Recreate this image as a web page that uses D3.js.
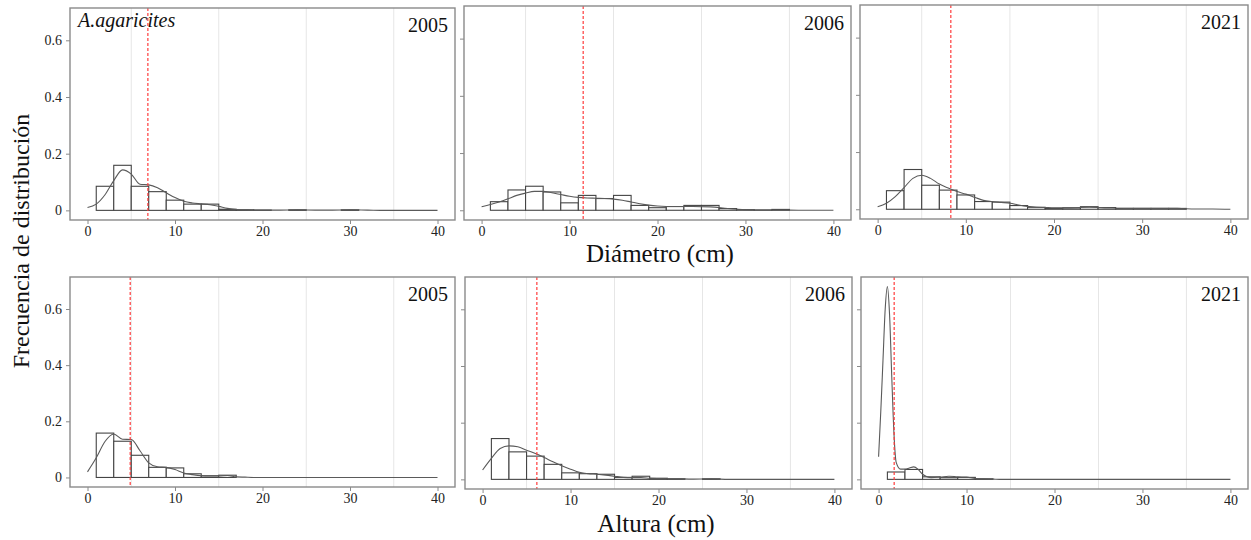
<!DOCTYPE html>
<html>
<head>
<meta charset="utf-8">
<script src="https://cdn.jsdelivr.net/npm/d3@7"></script>
<style>
  body { margin: 0; background: #fff; }
  text { font-family: "Liberation Serif", "Times New Roman", serif; }
</style>
</head>
<body>
<div id="chart"></div>
<script>
    // shared axes
    var xTicks = [0, 10, 20, 30, 40];
    var yTicks = [0, 0.2, 0.4, 0.6];
    var gridX = [5, 15, 25, 35];
    var years = ["2005", "2006", "2021"];
    var binWidth = 2;
    var firstBin = 1;

    // density grid (cm)
    var densityGrid = [0,1,2,3,4,5,6,7,8,9,10,11,12,13,14,15,16,17,18,19,20,22,24,26,28,30,32,34,36,38,40];
    var altura2021Grid = [0,0.25,0.5,0.75,1,1.25,1.5,1.75,2,2.5,3,3.5,4,4.5,5,5.5,6,7,8,9,10,11,12,13,14,20,30,40];

    // histogram heights (bins 1-3, 3-5, ...)
    var diam2005Bins = [0.085,0.159,0.085,0.066,0.036,0.022,0.022,0.004,0.002,0.001,0,0.002,0,0,0.002];
    var diam2006Bins = [0.030,0.071,0.084,0.064,0.026,0.052,0.041,0.052,0.017,0.009,0.013,0.017,0.017,0.006,0.002,0.001,0.003];
    var diam2021Bins = [0.065,0.139,0.084,0.067,0.050,0.027,0.025,0.013,0.007,0.003,0.005,0.009,0.006,0.003,0.003,0.003,0.003];
    var alt2005Bins = [0.158,0.129,0.079,0.036,0.034,0.013,0.006,0.008];
    var alt2006Bins = [0.144,0.097,0.082,0.053,0.023,0.020,0.018,0.007,0.011,0.004,0.002,0,0.002];
    var alt2021Bins = [0.026,0.035,0.009,0.006,0.007,0.002];

    // density curves
    var diam2005Dens = [0.010,0.022,0.055,0.105,0.143,0.128,0.092,0.090,0.080,0.062,0.045,0.032,0.026,0.023,0.020,0.014,0.007,0.003,0.002,0.001,0.001,0.001,0.002,0.001,0.001,0.002,0.001,0,0,0,0];
    var diam2006Dens = [0.012,0.020,0.029,0.040,0.052,0.060,0.066,0.066,0.061,0.055,0.049,0.045,0.043,0.042,0.041,0.039,0.035,0.029,0.023,0.018,0.015,0.013,0.013,0.012,0.006,0.002,0.001,0.001,0,0,0];
    var diam2021Dens = [0.009,0.021,0.044,0.076,0.108,0.119,0.108,0.088,0.074,0.062,0.053,0.042,0.031,0.027,0.024,0.021,0.015,0.010,0.007,0.006,0.005,0.005,0.007,0.005,0.003,0.003,0.003,0.003,0.001,0.001,0];
    var alt2005Dens = [0.020,0.070,0.128,0.155,0.136,0.135,0.095,0.052,0.038,0.036,0.028,0.016,0.010,0.006,0.005,0.005,0.007,0.002,0.001,0,0,0,0,0,0,0,0,0,0,0,0];
    var alt2006Dens = [0.033,0.074,0.109,0.118,0.115,0.103,0.091,0.077,0.062,0.048,0.036,0.025,0.020,0.018,0.015,0.011,0.007,0.006,0.006,0.004,0.003,0.002,0.001,0.002,0,0,0,0,0,0,0];
    var alt2021Dens = [0.08,0.24,0.42,0.60,0.68,0.58,0.36,0.16,0.06,0.036,0.036,0.040,0.044,0.035,0.018,0.009,0.006,0.008,0.011,0.009,0.008,0.003,0.002,0.001,0,0,0,0];

    // means (red dashed)
    var means = [6.9, 11.55, 8.3, 4.88, 6.17, 1.77];

    var panels = [
      { box: [70, 8, 455, 220],    bins: diam2005Bins, gx: densityGrid, dens: diam2005Dens, year: years[0], labels: true, species: "A.agaricites" },
      { box: [464, 6, 851, 220],   bins: diam2006Bins, gx: densityGrid, dens: diam2006Dens, year: years[1] },
      { box: [860, 5, 1248, 219],  bins: diam2021Bins, gx: densityGrid, dens: diam2021Dens, year: years[2] },
      { box: [70, 277, 455, 487],  bins: alt2005Bins, gx: densityGrid, dens: alt2005Dens, year: years[0], labels: true },
      { box: [465, 277, 852, 489], bins: alt2006Bins, gx: densityGrid, dens: alt2006Dens, year: years[1] },
      { box: [861, 277, 1248, 489], bins: alt2021Bins, gx: altura2021Grid, dens: alt2021Dens, year: years[2] }
    ];

    var svg = d3.select("#chart")
                .append("svg")
                .attr("width", 1251)
                .attr("height", 540);

    panels.forEach(function(p, i) {
      var x = d3.scaleLinear().domain([-2, 42]).range([p.box[0], p.box[2]]);
      var y = d3.scaleLinear().domain([-0.034, 0.714]).range([p.box[3], p.box[1]]);
      var g = svg.append("g");

      g.selectAll(".grid")
       .data(gridX)
       .enter()
       .append("line")
       .attr("x1", d => x(d)).attr("x2", d => x(d))
       .attr("y1", p.box[1]).attr("y2", p.box[3])
       .attr("stroke", "#e6e6e6")
       .attr("stroke-width", 1);

      g.selectAll(".bar")
       .data(p.bins)
       .enter()
       .append("rect")
       .attr("x", (d, k) => x(firstBin + k * binWidth))
       .attr("width", x(binWidth) - x(0))
       .attr("y", d => y(d))
       .attr("height", d => y(0) - y(d))
       .attr("fill", "#fff")
       .attr("stroke", "#444")
       .attr("stroke-width", 1.1);

      var line = d3.line()
                   .x((d, k) => x(p.gx[k]))
                   .y(d => y(d))
                   .curve(d3.curveMonotoneX);

      g.append("path")
       .datum(p.dens)
       .attr("fill", "none")
       .attr("stroke", "#5a5a5a")
       .attr("stroke-width", 1.1)
       .attr("d", line);

      g.append("line")
       .attr("x1", x(means[i])).attr("x2", x(means[i]))
       .attr("y1", p.box[1]).attr("y2", p.box[3])
       .attr("stroke", "#ff3b3b")
       .attr("stroke-width", 1.2)
       .attr("stroke-dasharray", "3,2");

      g.append("rect")
       .attr("x", p.box[0]).attr("y", p.box[1])
       .attr("width", p.box[2] - p.box[0])
       .attr("height", p.box[3] - p.box[1])
       .attr("fill", "none")
       .attr("stroke", "#8a8a8a")
       .attr("stroke-width", 1.4);

      var xAxis = g.append("g")
                   .attr("transform", `translate(0, ${p.box[3]})`)
                   .call(d3.axisBottom(x).tickValues(xTicks).tickSize(4).tickPadding(2));

      var yAxis = g.append("g")
                   .attr("transform", `translate(${p.box[0]}, 0)`)
                   .call(d3.axisLeft(y).tickValues(yTicks).tickSize(4).tickPadding(4)
                          .tickFormat(p.labels ? d3.format("") : ""));

      [xAxis, yAxis].forEach(function(a) {
        a.select(".domain").remove();
        a.selectAll(".tick line").attr("stroke", "#8a8a8a");
        a.selectAll(".tick text")
         .attr("fill", "#222")
         .style("font-size", "14px")
         .style("font-family", "'Liberation Serif', 'Times New Roman', serif");
      });

      g.append("text")
       .attr("x", p.box[2] - 7)
       .attr("y", p.box[1] + 24)
       .attr("text-anchor", "end")
       .style("font-size", "20px")
       .attr("fill", "#111")
       .text(p.year);

      if (p.species) {
        g.append("text")
         .attr("x", p.box[0] + 8)
         .attr("y", p.box[1] + 19)
         .style("font-size", "20px")
         .style("font-style", "italic")
         .attr("fill", "#111")
         .text(p.species);
      }
    });

    svg.append("text")
       .attr("x", 660)
       .attr("y", 262)
       .attr("text-anchor", "middle")
       .style("font-size", "25px")
       .attr("fill", "#111")
       .text("Diámetro (cm)");

    svg.append("text")
       .attr("x", 656)
       .attr("y", 532)
       .attr("text-anchor", "middle")
       .style("font-size", "25px")
       .attr("fill", "#111")
       .text("Altura (cm)");

    svg.append("text")
       .attr("transform", "translate(29, 241) rotate(-90)")
       .attr("text-anchor", "middle")
       .style("font-size", "24px")
       .attr("fill", "#111")
       .text("Frecuencia de distribución");
</script>
</body>
</html>
